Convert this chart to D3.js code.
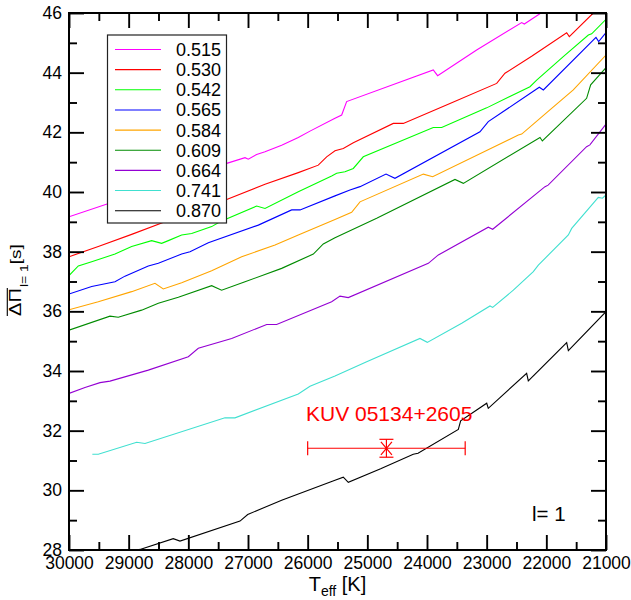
<!DOCTYPE html>
<html><head><meta charset="utf-8">
<script src="https://cdn.jsdelivr.net/npm/d3@7"></script>
<style>
body{margin:0;background:#fff}
svg{display:block}
text{font-family:"Liberation Sans",Arial,Helvetica,sans-serif}
</style>
</head><body>
<svg id="chart" width="631" height="600"></svg>
<script>
// ---------- data ----------
const xTicks = [30000,29000,28000,27000,26000,25000,24000,23000,22000,21000];
const xMinor = [29500,28500,27500,26500,25500,24500,23500,22500,21500];
const yTicks = [28,30,32,34,36,38,40,42,44,46];
const yMinor = [29,31,33,35,37,39,41,43,45];

const labels = ["0.515","0.530","0.542","0.565","0.584","0.609","0.664","0.741","0.870"];

const teff515 = [30000,29000,28000,27357,27050,26995,26855,26715,26436,26157,25961,25542,25430,25347,23895,23822,23168,22413,22369,21900];
const dp515   = [39.17,39.84,40.50,40.96,41.15,41.10,41.26,41.35,41.57,41.83,42.04,42.47,42.58,43.03,44.09,43.90,44.76,45.68,45.63,46.25];

const teff530 = [30000,29509,28950,28391,27357,26715,26157,25822,25682,25542,25403,25235,24565,24397,23615,22832,22693,22246,21659,21615,21213,21100];
const dp530   = [37.83,38.17,38.58,39.00,39.75,40.26,40.65,40.90,41.18,41.38,41.46,41.65,42.30,42.30,42.97,43.64,43.98,44.55,45.34,45.21,46.00,46.15];

const teff542 = [30000,29844,29620,29229,28950,28615,28447,28335,28112,27944,27609,27470,26855,26715,26157,25598,25514,25375,25235,25068,23895,23754,23000,22274,22162,21716,21296,21240,21000];
const dp542   = [37.20,37.52,37.66,37.92,38.17,38.37,38.28,38.37,38.56,38.61,38.84,39.00,39.53,39.45,40.01,40.54,40.63,40.68,40.79,41.18,42.16,42.16,42.82,43.53,43.75,44.54,45.26,45.30,45.79];

const teff565 = [30000,29620,29229,29062,28671,28503,28112,27972,27665,26827,26268,26128,25542,25291,25123,24687,24537,23112,22973,22118,22050,21168,21123,21000];
const dp565   = [36.58,36.83,36.99,37.18,37.52,37.61,37.92,38.00,38.30,38.89,39.40,39.40,39.87,40.07,40.18,40.60,40.46,42.02,42.36,43.51,43.42,45.18,45.04,45.34];

const teff584 = [30000,29509,28950,28559,28420,28112,27609,27106,26547,26157,25542,25263,25123,24061,23905,22469,22413,21994,21548,21000];
const dp584   = [36.05,36.32,36.66,36.94,36.75,36.96,37.36,37.83,38.22,38.56,39.08,39.32,39.67,40.60,40.51,41.91,41.94,42.66,43.42,44.59];

const teff609 = [30000,29313,29174,28783,28503,28168,27609,27442,27050,26436,25905,25738,25542,24843,23531,23391,22106,22067,21325,21257,21000];
const dp609   = [35.37,35.84,35.80,36.04,36.27,36.47,36.86,36.71,36.99,37.44,37.92,38.26,38.47,39.12,40.42,40.29,41.83,41.71,43.14,43.59,44.17];

const teff664 = [30000,29732,29480,29313,28671,28000,27833,27274,26687,26520,25598,25458,25319,23978,23810,22973,22899,22022,21970,21325,21270,21000];
const dp664   = [33.25,33.45,33.61,33.66,34.03,34.48,34.76,35.09,35.56,35.56,36.32,36.51,36.46,37.61,37.89,38.82,38.75,40.18,40.23,41.52,41.58,42.28];

const teff741 = [29609,29509,28866,28726,27386,27218,26157,25961,25542,25011,24118,23995,23418,22944,22899,22553,22218,22134,21631,21575,21129,21060,21000];
const dp741   = [31.21,31.21,31.61,31.57,32.43,32.43,33.23,33.49,33.83,34.31,35.09,34.96,35.60,36.18,36.13,36.71,37.33,37.55,38.56,38.78,39.82,39.79,39.90];

const teff870 = [29200,28810,28253,28140,27134,27005,26436,25542,25403,25319,24777,24230,24150,23475,23436,22999,22973,22330,22302,21659,21631,21000];
const dp870   = [27.80,28.02,28.38,28.30,28.97,29.19,29.67,30.34,30.44,30.27,30.72,31.21,31.24,32.04,32.33,32.92,32.75,33.92,33.67,34.95,34.68,35.99];

// observed star
const starName = "KUV 05134+2605";
const starTeff = [24680];
const starTeffErr = [1320];
const starDp = [31.41];
const starDpErr = [0.30];

// ---------- styles ----------
const colors = ["#ff00ff","#ff0000","#00ff00","#0000ff","#ffa500","#008b00","#9400d3","#40e0d0","#000000"];
const series = [
  [teff515,dp515],[teff530,dp530],[teff542,dp542],[teff565,dp565],[teff584,dp584],
  [teff609,dp609],[teff664,dp664],[teff741,dp741],[teff870,dp870]
].map((s,i)=>({label:labels[i], color:colors[i], pts:s[0].map((t,j)=>[t,s[1][j]])}));

const L=69, R=606, T=13, B=550;
const svg = d3.select("#chart");
const x = d3.scaleLinear().domain([30000,21000]).range([L,R]);
const y = d3.scaleLinear().domain([28,46]).range([B,T]);

svg.append("defs").append("clipPath").attr("id","clip")
  .append("rect").attr("x",L).attr("y",T).attr("width",R-L).attr("height",B-T);

// curves
const line = d3.line().x(d=>x(d[0])).y(d=>y(d[1]));
const gc = svg.append("g").attr("clip-path","url(#clip)");
series.forEach(s=>{
  gc.append("path").attr("d",line(s.pts)).attr("fill","none")
    .attr("stroke",s.color).attr("stroke-width",1.1);
});

// error bar + marker
const red="#ff0000";
const ge = svg.append("g").attr("stroke",red).attr("stroke-width",1.2).attr("fill","none");
starTeff.forEach((t,i)=>{
  const cx=x(t), cy=y(starDp[i]);
  const x1=x(t+starTeffErr[i]), x2=x(t-starTeffErr[i]);
  const y1=y(starDp[i]+starDpErr[i]), y2=y(starDp[i]-starDpErr[i]);
  ge.append("line").attr("x1",x1).attr("x2",x2).attr("y1",cy).attr("y2",cy);
  ge.append("line").attr("x1",x1).attr("x2",x1).attr("y1",cy-7).attr("y2",cy+7);
  ge.append("line").attr("x1",x2).attr("x2",x2).attr("y1",cy-7).attr("y2",cy+7);
  ge.append("line").attr("x1",cx).attr("x2",cx).attr("y1",y1).attr("y2",y2);
  ge.append("line").attr("x1",cx-7).attr("x2",cx+7).attr("y1",y1).attr("y2",y1);
  ge.append("line").attr("x1",cx-7).attr("x2",cx+7).attr("y1",y2).attr("y2",y2);
  ge.append("line").attr("x1",cx-5.5).attr("x2",cx+5.5).attr("y1",cy-6.5).attr("y2",cy+6.5);
  ge.append("line").attr("x1",cx-5.5).attr("x2",cx+5.5).attr("y1",cy+6.5).attr("y2",cy-6.5);
});
svg.append("text").attr("x",306).attr("y",420.5).attr("fill",red)
  .attr("font-size",21).text(starName);

// axes
function styleAxis(g){
  g.select(".domain").remove();
  g.selectAll(".tick line").attr("stroke","#000").attr("stroke-width",1.9);
  g.selectAll("text").attr("fill","#000").attr("font-size",17.5)
    .attr("font-family",'"Liberation Sans",Arial,sans-serif');
}
svg.append("g").attr("transform",`translate(0,${B})`)
  .call(d3.axisBottom(x).tickValues(xTicks).tickSize(-15).tickPadding(7).tickFormat(d3.format("d"))).call(styleAxis);
svg.append("g").attr("transform",`translate(0,${B})`)
  .call(d3.axisBottom(x).tickValues(xMinor).tickSize(-8).tickFormat("")).call(styleAxis);
svg.append("g").attr("transform",`translate(0,${T})`)
  .call(d3.axisTop(x).tickValues(xTicks).tickSize(-15).tickFormat("")).call(styleAxis);
svg.append("g").attr("transform",`translate(0,${T})`)
  .call(d3.axisTop(x).tickValues(xMinor).tickSize(-8).tickFormat("")).call(styleAxis);
svg.append("g").attr("transform",`translate(${L},0)`)
  .call(d3.axisLeft(y).tickValues(yTicks).tickSize(-15).tickPadding(7)).call(styleAxis);
svg.append("g").attr("transform",`translate(${L},0)`)
  .call(d3.axisLeft(y).tickValues(yMinor).tickSize(-8).tickFormat("")).call(styleAxis);
svg.append("g").attr("transform",`translate(${R},0)`)
  .call(d3.axisRight(y).tickValues(yTicks).tickSize(-15).tickFormat("")).call(styleAxis);
svg.append("g").attr("transform",`translate(${R},0)`)
  .call(d3.axisRight(y).tickValues(yMinor).tickSize(-8).tickFormat("")).call(styleAxis);

svg.append("rect").attr("x",L).attr("y",T).attr("width",R-L).attr("height",B-T)
  .attr("fill","none").attr("stroke","#000").attr("stroke-width",2);

// legend
const lg = svg.append("g");
lg.append("rect").attr("x",107.5).attr("y",35).attr("width",119).attr("height",188)
  .attr("fill","#fff").attr("stroke","#222").attr("stroke-width",1.2);
series.forEach((s,i)=>{
  const yy = 49.5 + i*20.15;
  lg.append("line").attr("x1",115).attr("x2",161).attr("y1",yy).attr("y2",yy)
    .attr("stroke",s.color).attr("stroke-width",1.1);
  lg.append("text").attr("x",176).attr("y",yy+6.4).attr("font-size",18).attr("fill","#000").text(s.label);
});

// l= 1 annotation
svg.append("text").attr("x",532).attr("y",520.5).attr("font-size",20.5).attr("fill","#000").text("l= 1");

// x axis title
const xt = svg.append("text").attr("y",591).attr("font-size",20).attr("fill","#000");
xt.append("tspan").text("T");
xt.append("tspan").attr("font-size",14).attr("dy",5).text("eff");
xt.append("tspan").attr("dy",-5).text(" [K]");
const xw = xt.node().getComputedTextLength();
xt.attr("x",(L+R)/2 - xw/2);

// y axis title (rotated)
const yg = svg.append("g");
const inner = yg.append("g");
const dpT = inner.append("text").attr("x",0).attr("y",0).attr("font-size",20)
  .attr("font-family",'"Liberation Serif","Times New Roman",serif').attr("fill","#000").text("ΔΠ");
const w1 = dpT.node().getComputedTextLength();
inner.append("line").attr("x1",0).attr("x2",w1).attr("y1",-16.5).attr("y2",-16.5)
  .attr("stroke","#000").attr("stroke-width",1.4);
const subT = inner.append("text").attr("x",w1+1).attr("y",9).attr("font-size",14).attr("fill","#000").text("l= 1");
const w2 = subT.node().getComputedTextLength();
const sT = inner.append("text").attr("x",w1+1+w2).attr("y",0).attr("font-size",19).attr("fill","#000").text(" [s]");
const w3 = sT.node().getComputedTextLength();
const total = w1+1+w2+w3;
yg.attr("transform",`translate(20.5,${280+total/2}) rotate(-90) scale(1,0.8)`);
</script>
</body></html>
